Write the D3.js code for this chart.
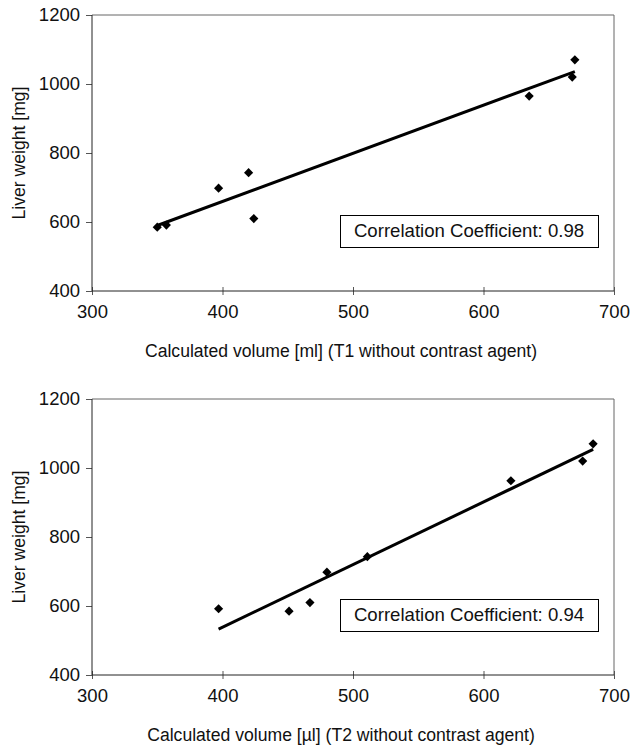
<!DOCTYPE html>
<html>
<head>
<meta charset="utf-8">
<script src="https://cdn.jsdelivr.net/npm/d3@7"></script>
<style>
  body { margin: 0; background: #fff; }
  svg text { font-family: 'Liberation Sans', Arial, sans-serif; fill: #111; }
</style>
</head>
<body>
<div id="chart"></div>
<script>
// T1 panel
const t1Volume = [350, 357, 397, 420, 424, 635, 668, 670]
const t1Weight = [585, 591, 698, 743, 610, 965, 1020, 1070]
// T2 panel
const t2Volume = [397, 451, 467, 480, 511, 621, 676, 684]
const t2Weight = [592, 585, 610, 698, 743, 963, 1020, 1070]

const xTicks = [300, 400, 500, 600, 700]
const yTicks = [400, 600, 800, 1000, 1200]
const xTitles = [
  'Calculated volume [ml] (T1 without contrast agent)',
  'Calculated volume [\u00b5l] (T2 without contrast agent)'
]
const yTitle = 'Liver weight [mg]'
const correlations = ['0.98', '0.94']

const width = 632
const height = 746

const svg = d3.select('#chart')
  .append('svg')
  .attr('width', width)
  .attr('height', height)

const panels = [
  { vol: t1Volume, wt: t1Weight, top: 15, bottom: 291, title: xTitles[0], r: correlations[0] },
  { vol: t2Volume, wt: t2Weight, top: 399, bottom: 675, title: xTitles[1], r: correlations[1] }
]

const left = 92
const right = 614

panels.forEach(p => draw(p))

function draw(p) {
  const x = d3.scaleLinear().domain([300, 700]).range([left, right])
  const y = d3.scaleLinear().domain([400, 1200]).range([p.bottom, p.top])
  const g = svg.append('g')

  // frame (top + right lighter)
  g.append('path')
    .attr('d', `M${left},${p.top}H${right}V${p.bottom}`)
    .attr('fill', 'none')
    .attr('stroke', '#666')
    .attr('stroke-width', 1)

  // x axis: ticks cross the line
  const xa = g.append('g')
    .attr('transform', `translate(0,${p.bottom})`)
    .call(d3.axisBottom(x).tickValues(xTicks).tickSize(4).tickPadding(10).tickFormat(d3.format('d')))
  xa.select('.domain').remove()
  g.append('g')
    .attr('transform', `translate(0,${p.bottom})`)
    .call(d3.axisTop(x).tickValues(xTicks).tickSize(4).tickFormat(''))
    .select('.domain').remove()

  const ya = g.append('g')
    .attr('transform', `translate(${left},0)`)
    .call(d3.axisLeft(y).tickValues(yTicks).tickSize(6).tickPadding(6).tickFormat(d3.format('d')))
  ya.select('.domain').remove()

  g.selectAll('.tick line').attr('stroke', '#555')
  g.selectAll('.tick text')
    .style('font-size', '18.5px')
    .attr('fill', '#111')

  g.append('line')
    .attr('x1', left).attr('x2', right)
    .attr('y1', p.bottom).attr('y2', p.bottom)
    .attr('stroke', '#222')
  g.append('line')
    .attr('x1', left).attr('x2', left)
    .attr('y1', p.top).attr('y2', p.bottom)
    .attr('stroke', '#222')

  // axis titles
  g.append('text')
    .attr('x', (left + right) / 2 - 12)
    .attr('y', p.bottom + 66)
    .attr('text-anchor', 'middle')
    .style('font-size', '17.6px')
    .text(p.title)

  g.append('text')
    .attr('transform', `translate(25,${(p.top + p.bottom) / 2}) rotate(-90)`)
    .attr('text-anchor', 'middle')
    .style('font-size', '17.6px')
    .text(yTitle)

  // least squares trend line
  const pts = p.vol.map((v, i) => [v, p.wt[i]])
  const mx = d3.mean(p.vol)
  const my = d3.mean(p.wt)
  const slope = d3.sum(pts, d => (d[0] - mx) * (d[1] - my)) / d3.sum(pts, d => (d[0] - mx) ** 2)
  const fit = v => my + slope * (v - mx)
  const ends = d3.extent(p.vol)

  g.append('path')
    .datum(ends)
    .attr('d', d3.line().x(d => x(d)).y(d => y(fit(d))))
    .attr('stroke', '#000')
    .attr('stroke-width', 3)
    .attr('fill', 'none')

  g.selectAll('.pt')
    .data(pts)
    .enter()
    .append('path')
    .classed('pt', true)
    .attr('d', d3.symbol(d3.symbolSquare, 42))
    .attr('transform', d => `translate(${x(d[0])},${y(d[1])}) rotate(45)`)
    .attr('fill', '#000')

  // correlation box
  const by = p.bottom - 76
  g.append('rect')
    .attr('x', 340.5)
    .attr('y', by + 0.5)
    .attr('width', 258)
    .attr('height', 32)
    .attr('fill', '#fff')
    .attr('stroke', '#000')
  g.append('text')
    .attr('x', 340 + 129)
    .attr('y', by + 22)
    .attr('text-anchor', 'middle')
    .style('font-size', '18.6px')
    .text(`Correlation Coefficient: ${p.r}`)
}
</script>
</body>
</html>
